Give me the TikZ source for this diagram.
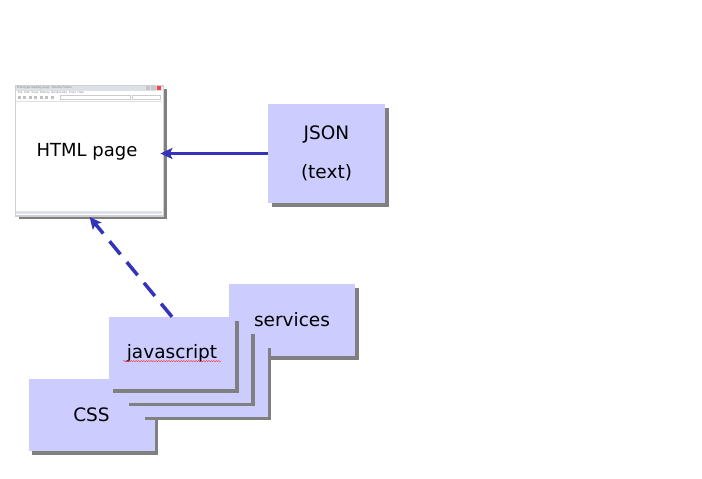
\documentclass[tikz,border=0pt]{standalone}
\usepackage{fontspec}
\setmainfont{DejaVu Sans}
\usetikzlibrary{arrows.meta, shadows, decorations.pathmorphing}
\definecolor{cardfill}{RGB}{204,204,255}
\definecolor{cardshade}{RGB}{128,128,128}
\definecolor{linkblue}{RGB}{51,51,187}
\definecolor{chrome}{RGB}{222,224,232}
\definecolor{chromeedge}{RGB}{208,208,212}
\tikzset{
  >={Stealth[length=12pt, width=11pt, inset=2.5pt]},
  card/.style={fill=cardfill, inner sep=0pt,
    minimum width=126pt, minimum height=72pt,
    font=\fontsize{18.5}{22}\selectfont,
    general shadow={fill=cardshade, shadow xshift=3.5pt, shadow yshift=-3.5pt}},
  page/.style={fill=white, draw=chromeedge, line width=1.8pt,
    minimum width=148pt, minimum height=130pt,
    general shadow={fill=cardshade, shadow xshift=3pt, shadow yshift=-3pt}},
  tiny/.style={font=\fontsize{2.8}{3}\selectfont, text=gray, inner sep=0pt, anchor=west},
  feeds/.style={->, draw=linkblue, line width=3pt},
  loads/.style={->, draw=linkblue, line width=3.5pt, dash pattern=on 17pt off 10pt},
  squiggle/.style={draw=red!80, line width=0.4pt,
    decorate, decoration={snake, amplitude=0.6pt, segment length=2.5pt}},
}

\begin{document}
\begin{tikzpicture}[x=1pt, y=-1pt]
  \useasboundingbox (0,0) rectangle (702,479);

  % browser window
  \node[page] (html) at (89.5,151) {};
  \node[font=\fontsize{18}{22}\selectfont] (htmltext) at (87,152) {HTML page};
  \begin{scope}[shift={(html.north west)}]
    \fill[chrome] (0.9,0.9) rectangle (147.1,5.5);
    \node[tiny] (title) at (2,3) {Prototype loading page - Mozilla Firefox};
    \fill[gray!45] (131,1.3) rectangle (135.5,5);
    \fill[gray!45] (136.5,1.3) rectangle (141,5);
    \fill[red!75] (142,1.3) rectangle (146.5,5);
    \node[tiny] (menu) at (3,8) {File\ \ Edit\ \ View\ \ History\ \ Bookmarks\ \ Tools\ \ Help};
    \foreach \i in {0,...,6}
      \fill[gray!50] (3+\i*5.5,10.5) rectangle +(3,3);
    \draw[gray!40, fill=white, line width=0.3pt] (46,10.5) rectangle (116,13.8);
    \draw[gray!40, fill=white, line width=0.3pt] (118,10.5) rectangle (146,13.8);
    \draw[gray!25, line width=0.4pt] (0.9,16) -- (147.1,16);
    \fill[chrome] (0.9,126) rectangle (147.1,129.1);
  \end{scope}

  % data source
  \node[card, minimum width=117pt, minimum height=99pt, align=center,
    font=\fontsize{18.5}{39}\selectfont] (json) at (326.5,153.5) {JSON\\(text)};

  % stacked resources
  \node[card] (services) at (292,320) {services};
  \node[card] (css) at (91.5,415) {CSS};
  \node[card] (stackA) at (204.5,380.5) {};
  \node[card] (stackB) at (188,366.5) {};
  \node[card] (js) at (172,353) {javascript};
  \path[squiggle] ([xshift=-49pt, yshift=-3pt]js.base) -- ([xshift=49pt, yshift=-3pt]js.base);

  % links
  \draw[feeds, shorten >=-4pt] (json.west) -- (json.west -| html.east);
  \draw[loads] (js.north) -- (html.south);
\end{tikzpicture}
\end{document}
